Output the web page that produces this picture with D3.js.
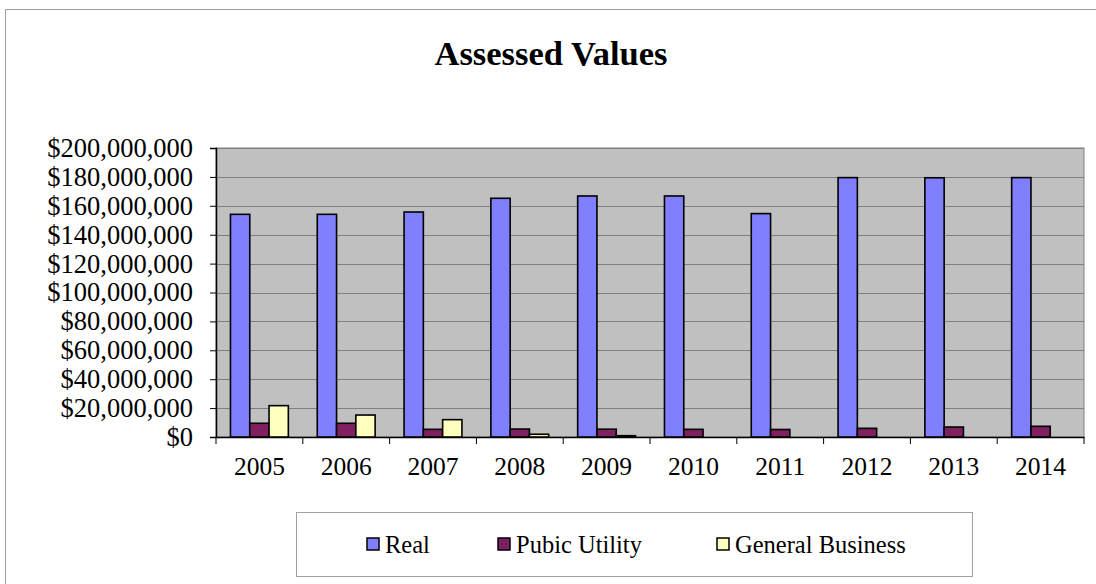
<!DOCTYPE html>
<html><head><meta charset="utf-8">
<script src="https://cdn.jsdelivr.net/npm/d3@7"></script>
<style>body{margin:0;background:#fff}svg{display:block}text{font-family:"Liberation Serif","Times New Roman",serif;fill:#000}</style>
</head><body>
<svg id="c" width="1096" height="584"></svg>
<script>
const years = ["2005","2006","2007","2008","2009","2010","2011","2012","2013","2014"];
const seriesNames = ["Real","Pubic Utility","General Business"];
const real = [154.1e6,154.1e6,155.7e6,165.2e6,166.8e6,166.8e6,154.6e6,179.5e6,179.4e6,179.5e6];
const utility = [9.5e6,9.5e6,5.3e6,5.5e6,5.4e6,5.3e6,5.2e6,6.0e6,6.9e6,7.4e6];
const business = [21.7e6,15.2e6,12.0e6,1.9e6,0.9e6,0,0,0,0,0];
const yTicks = [0,20e6,40e6,60e6,80e6,100e6,120e6,140e6,160e6,180e6,200e6];
const colors = ["#8080ff","#802060","#ffffc0"];
const title = "Assessed Values";
const FONT = '"Liberation Serif","Times New Roman",serif';

const svg = d3.select("#c");
const L=216,R=1084,T=148,B=437;
svg.append("rect").attr("x",5.5).attr("y",9.5).attr("width",1100).attr("height",600)
  .attr("fill","#fff").attr("stroke","#a0a0a0").attr("stroke-width",1);
svg.append("text").attr("x",551).attr("y",65).attr("text-anchor","middle").attr("font-family",FONT)
  .attr("font-size",34.5).attr("font-weight","bold").text(title);

const y = d3.scaleLinear().domain([0,200e6]).range([B,T]);
const x0 = d3.scaleBand().domain(years).range([L,R]).padding(0);
const x1 = d3.scaleBand().domain(seriesNames).range([0,x0.bandwidth()]).paddingInner(0).paddingOuter(0.75);

svg.append("rect").attr("x",L).attr("y",T).attr("width",R-L).attr("height",B-T)
  .attr("fill","#c0c0c0").attr("stroke","#808080").attr("stroke-width",1);
svg.append("g").selectAll("line").data(yTicks.slice(1)).join("line")
  .attr("x1",L).attr("x2",R).attr("y1",d=>Math.round(y(d))+0.5).attr("y2",d=>Math.round(y(d))+0.5)
  .attr("stroke","#808080").attr("stroke-width",1);

const fmt = d=>"$"+d3.format(",")(d);
const ya = svg.append("g").attr("transform",`translate(${L},0)`)
  .call(d3.axisLeft(y).tickValues(yTicks).tickFormat(fmt).tickSize(6).tickPadding(17));
ya.select(".domain").attr("stroke","#000").attr("stroke-width",1.5);
ya.selectAll(".tick line").attr("stroke","#000");
ya.selectAll("text").attr("font-size",26.5).attr("font-family",FONT).attr("fill","#000");

const xa = svg.append("g").attr("transform",`translate(0,${B})`)
  .call(d3.axisBottom(x0).tickSize(0).tickPadding(20));
xa.select(".domain").attr("stroke","#000").attr("stroke-width",1.5);
xa.selectAll("text").attr("font-size",25.5).attr("font-family",FONT).attr("fill","#000");
const bounds = years.map(d=>x0(d)).concat([R]);
svg.append("g").selectAll("line").data(bounds).join("line")
  .attr("x1",d=>d).attr("x2",d=>d).attr("y1",B).attr("y2",B+7).attr("stroke","#000");

const data = [real,utility,business];
const g = svg.append("g");
years.forEach((yr,i)=>{
  seriesNames.forEach((s,j)=>{
    const v = data[j][i];
    if(!(v>0)) return;
    g.append("rect").attr("x",x0(yr)+x1(s)).attr("y",y(v)).attr("width",x1.bandwidth())
      .attr("height",B-y(v)).attr("fill",colors[j]).attr("stroke","#000").attr("stroke-width",1.6);
  });
});

svg.append("rect").attr("x",296.5).attr("y",512.5).attr("width",676).attr("height",64)
  .attr("fill","#fff").attr("stroke","#a0a0a0");
const legX = [367,498,717];
seriesNames.forEach((s,j)=>{
  svg.append("rect").attr("x",legX[j]).attr("y",538).attr("width",12).attr("height",12)
    .attr("fill",colors[j]).attr("stroke","#000").attr("stroke-width",1.5);
  svg.append("text").attr("x",legX[j]+18).attr("y",553).attr("font-size",24.5).attr("font-family",FONT).text(s);
});
</script>
</body></html>
